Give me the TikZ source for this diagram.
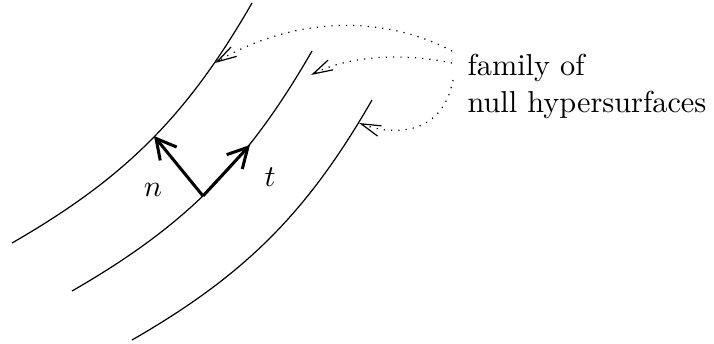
\documentclass[tikz,border=0pt]{standalone}
\usetikzlibrary{arrows.meta}

\tikzset{
  vec/.style={line width=1pt,-{Straight Barb[length=6.5pt,width=7pt]}},
  pointer/.style={dotted,-{Straight Barb[length=6.5pt,width=3.6pt]}}
}

\begin{document}
\begin{tikzpicture}[x=0.33pt,y=0.33pt]
\useasboundingbox (0,0) rectangle (714,343);
% null hypersurfaces
\draw[thin] (12,100) .. controls (125,165) and (187,227) .. (252,340);
\draw[thin] (72,52) .. controls (185,117) and (247,179) .. (312,292);
\draw[thin] (132,3) .. controls (245,68) and (307,130) .. (372,243);
% vectors
\coordinate (o) at (203,147);
\coordinate (ntip) at (154,207);
\coordinate (ttip) at (250,198);
\draw[vec] (o) -- (ntip);
\draw[vec] (o) -- (ttip);
\node (n) at (153,153) {$n$};
\node (t) at (270,166) {$t$};
% label
\node (family) [anchor=north west,inner sep=0pt,align=left] at (467,289) {family of\\null hypersurfaces};
\coordinate (s1) at (452,292);
\coordinate (s2) at (452,280);
\coordinate (s3) at (453,263);
\coordinate (e1) at (215,280);
\coordinate (e2) at (311,268);
\coordinate (e3) at (359,220);
\draw[pointer] (s1) .. controls (380,330) and (290,325) .. (e1);
\draw[pointer] (s2) .. controls (405,290) and (350,288) .. (e2);
\draw[pointer] (s3) .. controls (442,205) and (390,208) .. (e3);
\end{tikzpicture}
\end{document}
